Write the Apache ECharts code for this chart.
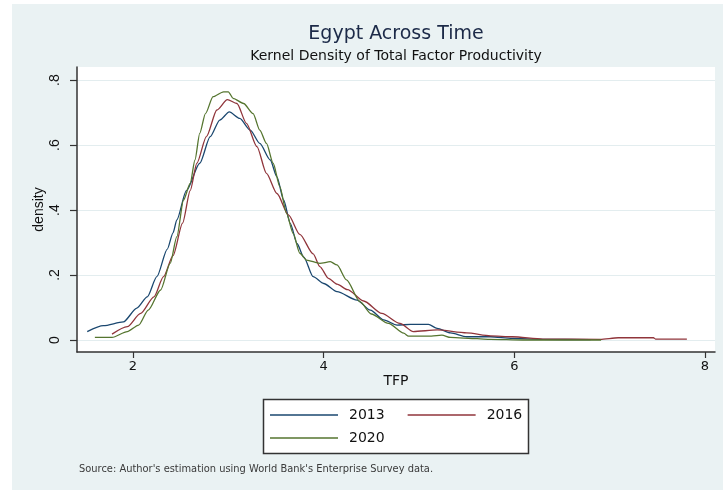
<!DOCTYPE html>
<html>
<head>
<meta charset="utf-8">
<script src="https://cdn.jsdelivr.net/npm/echarts@6/dist/echarts.min.js"></script>
<style>
html,body{margin:0;padding:0;background:#fff;}
#c{position:absolute;left:0;top:0;width:723px;height:490px;}
</style>
</head>
<body>
<div id="c"></div>
<script>
// ---- data ----
const seriesNames = ['2013', '2016', '2020'];
const tfp2013  = [1.52,1.69,1.90,2.04,2.15,2.25,2.36,2.42,2.46,2.56,2.70,2.81,2.91,3.01,3.12,3.23,3.33,3.44,3.51,3.58,3.65,3.72,3.79,3.89,4.00,4.14,4.35,4.49,4.63,4.77,4.91,5.10,5.19,5.33,5.50,5.75,5.98,6.30,6.80];
const dens2013 = [0.026,0.044,0.056,0.098,0.133,0.195,0.280,0.330,0.370,0.460,0.544,0.626,0.677,0.702,0.682,0.646,0.605,0.554,0.502,0.431,0.359,0.297,0.256,0.195,0.174,0.149,0.123,0.092,0.062,0.046,0.048,0.048,0.036,0.022,0.010,0.010,0.005,0.002,0.001];
const tfp2016  = [1.78,1.94,2.08,2.22,2.32,2.42,2.52,2.60,2.67,2.77,2.88,2.99,3.09,3.19,3.30,3.40,3.51,3.63,3.75,3.89,3.96,4.05,4.14,4.25,4.42,4.61,4.80,4.94,5.19,5.50,5.75,5.98,6.30,6.90,7.09,7.46,7.48,7.81];
const dens2016 = [0.018,0.041,0.082,0.133,0.195,0.260,0.360,0.460,0.544,0.626,0.708,0.740,0.728,0.667,0.595,0.513,0.451,0.385,0.325,0.265,0.226,0.190,0.172,0.155,0.120,0.082,0.051,0.026,0.031,0.022,0.013,0.010,0.003,0.002,0.007,0.007,0.003,0.003];
const tfp2020  = [1.60,1.78,1.94,2.06,2.16,2.29,2.39,2.46,2.53,2.60,2.65,2.70,2.76,2.84,2.95,3.00,3.05,3.16,3.26,3.33,3.40,3.47,3.54,3.61,3.68,3.75,3.82,3.96,4.07,4.14,4.24,4.38,4.50,4.68,4.84,4.89,5.13,5.24,5.33,5.61,5.75,6.09,6.91];
const dens2020 = [0.008,0.008,0.026,0.046,0.092,0.154,0.236,0.318,0.431,0.482,0.554,0.636,0.697,0.749,0.764,0.764,0.744,0.728,0.697,0.646,0.605,0.544,0.472,0.390,0.328,0.267,0.246,0.236,0.241,0.231,0.185,0.118,0.080,0.051,0.021,0.012,0.012,0.015,0.008,0.004,0.002,0.000,0.000];
const xTicks = [2, 4, 6, 8];
const yTicks = [0, 0.2, 0.4, 0.6, 0.8];
const titleText = 'Egypt Across Time';
const subtitleText = 'Kernel Density of Total Factor Productivity';
const xName = 'TFP';
const yName = 'density';
const sourceText = "Source: Author's estimation using World Bank's Enterprise Survey data.";

// ---- styles ----
const colors = ['#1a476f', '#90353b', '#55752f'];
const bg = '#eaf2f3';
const font = 'DejaVu Sans';

function pairs(xs, ys) { return xs.map((x, i) => [x, ys[i]]); }
const allX = [tfp2013, tfp2016, tfp2020];
const allY = [dens2013, dens2016, dens2020];

const legendText = {fontFamily: font, fontSize: 14, color: '#111', padding: [0, 0, 0, 6]};

const chart = echarts.init(document.getElementById('c'), null, {renderer: 'canvas'});
const option = {
  backgroundColor: '#fff',
  animation: false,
  color: colors,
  grid: {left: 77, right: 8, top: 67, bottom: 138, show: true, backgroundColor: '#fff', borderWidth: 0, containLabel: false},
  xAxis: {
    type: 'value', min: 1.4126, max: 8.105,
    name: xName, nameLocation: 'middle', nameGap: 22, nameMoveOverlap: false,
    nameTextStyle: {fontFamily: font, fontSize: 14, color: '#111'},
    axisLine: {show: true, onZero: false, lineStyle: {color: '#333', width: 1.5}},
    axisTick: {show: true, length: 6, customValues: xTicks, lineStyle: {color: '#333', width: 1.2}},
    axisLabel: {customValues: xTicks, margin: 8, fontFamily: font, fontSize: 13, color: '#111'},
    splitLine: {show: false}
  },
  yAxis: {
    type: 'value', min: -0.0369, max: 0.8403,
    name: yName, nameLocation: 'middle', nameGap: 31, nameRotate: 90, nameMoveOverlap: false,
    nameTextStyle: {fontFamily: 'Liberation Sans', fontSize: 14, color: '#111'},
    axisLine: {show: true, onZero: false, lineStyle: {color: '#333', width: 1.5}},
    axisTick: {show: true, length: 7, customValues: yTicks, lineStyle: {color: '#333', width: 1.2}},
    axisLabel: {customValues: yTicks, rotate: 90, margin: 15, fontFamily: 'Liberation Sans', fontSize: 14, color: '#111',
      formatter: v => v === 0 ? '0' : String(v).replace(/^0/, '')},
    splitLine: {show: true, lineStyle: {color: '#e3edef', width: 1.2}}
  },
  legend: [
    {data: [seriesNames[0], seriesNames[1]], left: 270, top: 408, padding: 0, icon: 'rect', itemWidth: 68, itemHeight: 1.5, itemGap: 23,
     selectedMode: false, textStyle: legendText},
    {data: [seriesNames[2]], left: 270, top: 431, padding: 0, icon: 'rect', itemWidth: 68, itemHeight: 1.5,
     selectedMode: false, textStyle: legendText}
  ],
  graphic: [
    {type: 'rect', z: -100, silent: true, shape: {x: 12, y: 4, width: 711, height: 486}, style: {fill: bg}},
    {type: 'rect', z: -1, silent: true, shape: {x: 263.5, y: 399.5, width: 265, height: 54}, style: {fill: '#fff', stroke: '#333', lineWidth: 1.5}},
    {type: 'text', silent: true, x: 396, y: 34, style: {text: titleText, font: '19px "DejaVu Sans"', fill: '#1c2a48', textAlign: 'center', textVerticalAlign: 'middle'}},
    {type: 'text', silent: true, x: 396, y: 56, style: {text: subtitleText, font: '14px "DejaVu Sans"', fill: '#111', textAlign: 'center', textVerticalAlign: 'middle'}},
    {type: 'text', silent: true, x: 79, y: 469, style: {text: sourceText, font: '9.9px "DejaVu Sans"', fill: '#3a3a3a', textAlign: 'left', textVerticalAlign: 'middle'}}
  ],
  series: seriesNames.map((n, i) => ({
    name: n, type: 'line', symbol: 'none', smooth: 0.25, smoothMonotone: 'x',
    data: pairs(allX[i], allY[i]),
    lineStyle: {color: colors[i], width: 1.3},
    itemStyle: {color: colors[i]},
    emphasis: {disabled: true}
  }))
};
chart.setOption(option);
</script>
</body>
</html>
